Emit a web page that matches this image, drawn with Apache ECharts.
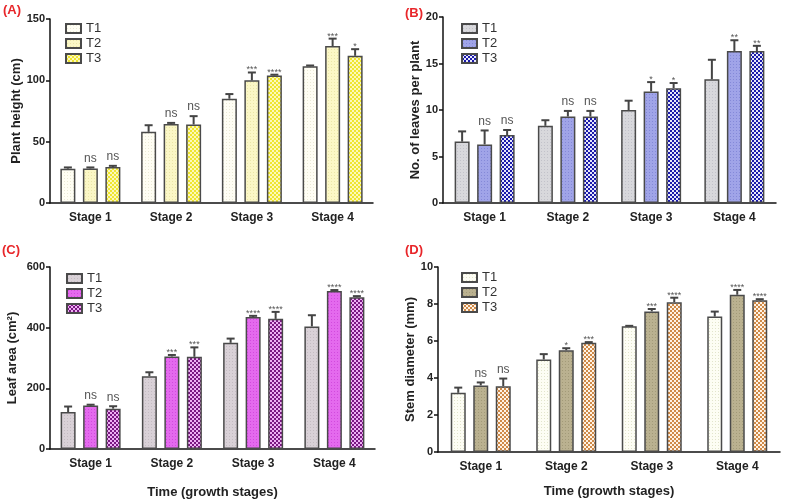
<!DOCTYPE html>
<html>
<head>
<meta charset="UTF-8">
<title></title>
<script src="https://cdn.jsdelivr.net/npm/echarts@6/dist/echarts.min.js"></script>
<style>
* { margin: 0; padding: 0; }
#app { width: 786px; height: 504px; background: #fff; }
</style>
</head>
<body>
<div id="app"></div>
<script>
var stages = ['Stage 1', 'Stage 2', 'Stage 3', 'Stage 4'];
var treatments = ['T1', 'T2', 'T3'];

// (A) plant height, rows = T1, T2, T3
var heightMean = [[28, 58, 85, 111.5], [28.2, 64.5, 100, 128], [29.3, 64, 104, 120]];
var heightErr = [[1, 5.4, 3.8, 0.6], [0.8, 0.8, 6.4, 6], [1, 6.8, 0.6, 5.4]];
var heightSig = [['', '', '', ''], ['ns', 'ns', '***', '***'], ['ns', 'ns', '****', '*']];

// (B) leaves per plant
var leavesMean = [[6.6, 8.3, 10.0, 13.3], [6.3, 9.3, 12.0, 16.35], [7.3, 9.3, 12.35, 16.35]];
var leavesErr = [[1.1, 0.6, 1.0, 2.1], [1.5, 0.6, 1.0, 1.15], [0.55, 0.6, 0.55, 0.55]];
var leavesSig = [['', '', '', ''], ['ns', 'ns', '*', '**'], ['ns', 'ns', '*', '**']];

// (C) leaf area
var areaMean = [[122, 240, 350, 404], [143, 305, 435, 521], [133, 304, 429, 500]];
var areaErr = [[18, 13, 14, 37], [3, 5, 4, 3], [8, 31, 23, 4]];
var areaSig = [['', '', '', ''], ['ns', '***', '****', '****'], ['ns', '***', '****', '****']];

// (D) stem diameter
var stemMean = [[3.2, 5.0, 6.8, 7.32], [3.6, 5.5, 7.6, 8.5], [3.56, 5.9, 8.1, 8.2]];
var stemErr = [[0.28, 0.29, 0.02, 0.27], [0.16, 0.11, 0.13, 0.26], [0.41, 0.04, 0.24, 0.06]];
var stemSig = [['', '', '', ''], ['ns', '*', '***', '****'], ['ns', '***', '****', '****']];

function dots(base, dot) {
	var c = document.createElement('canvas');
	c.width = 3; c.height = 3;
	var g = c.getContext('2d');
	g.fillStyle = base; g.fillRect(0, 0, 3, 3);
	g.fillStyle = dot; g.fillRect(1, 1, 1, 1);
	return { image: c, repeat: 'repeat' };
}
function checks(a, b) {
	var c = document.createElement('canvas');
	c.width = 4; c.height = 4;
	var g = c.getContext('2d');
	g.fillStyle = b; g.fillRect(0, 0, 4, 4);
	g.fillStyle = a; g.fillRect(0, 0, 2, 2); g.fillRect(2, 2, 2, 2);
	return { image: c, repeat: 'repeat' };
}

var font = "'Liberation Sans', Arial, sans-serif";

var panels = [
	{ key: 'A', tag: '(A)', yName: 'Plant height (cm)', max: 150, step: 50,
	  mean: heightMean, err: heightErr, sig: heightSig,
	  fills: [dots('#fffef4', '#ebead6'), dots('#fbf7c6', '#ebe6a8'), checks('#efe530', '#fbf8bc')],
	  grid: { left: 50, top: 19, width: 323, height: 184 }, nameGap: 27, legend: [60, 16], tagPos: [3, 4] },
	{ key: 'B', tag: '(B)', yName: 'No. of leaves per plant', max: 20, step: 5,
	  mean: leavesMean, err: leavesErr, sig: leavesSig,
	  fills: [dots('#d8d8dc', '#c2c2ca'), dots('#a0a4e8', '#8489d8'), checks('#1a1aaa', '#e6e6fa')],
	  grid: { left: 443, top: 17, width: 333, height: 186 }, nameGap: 17, legend: [456, 16], tagPos: [405, 7] },
	{ key: 'C', tag: '(C)', yName: 'Leaf area (cm²)', max: 600, step: 200,
	  mean: areaMean, err: areaErr, sig: areaSig,
	  fills: [dots('#d9d1d7', '#c4bcc2'), dots('#e46aee', '#d24ade'), checks('#7a1882', '#eeb0f4')],
	  grid: { left: 50, top: 267, width: 325, height: 182 }, nameGap: 31, legend: [61, 266], tagPos: [2, 244],
	  xName: 'Time (growth stages)', xGap: 37 },
	{ key: 'D', tag: '(D)', yName: 'Stem diameter (mm)', max: 10, step: 2,
	  mean: stemMean, err: stemErr, sig: stemSig,
	  fills: [dots('#fdfdf4', '#e2e4cc'), dots('#bab190', '#a29a78'), checks('#cf8a48', '#fff2e4')],
	  grid: { left: 438, top: 267, width: 342, height: 185 }, nameGap: 17, legend: [456, 265], tagPos: [405, 244],
	  xName: 'Time (growth stages)', xGap: 33 }
];

function errRender(offset, sig) {
	return function (params, api) {
		var j = api.value(0);
		var x = api.coord([j, 0])[0] + offset;
		var top = api.coord([j, api.value(1)])[1];
		var hi = api.coord([j, api.value(1) + api.value(2)])[1];
		var lbl = sig[params.dataIndex];
		var isNs = lbl === 'ns';
		return {
			type: 'group',
			children: [
				{ type: 'line', shape: { x1: x, y1: top, x2: x, y2: hi }, style: { stroke: '#444', lineWidth: 2 } },
				{ type: 'line', shape: { x1: x - 4, y1: hi, x2: x + 4, y2: hi }, style: { stroke: '#444', lineWidth: 2 } },
				{ type: 'text', style: { text: lbl, x: x, y: isNs ? hi - 3 : hi + 2, align: 'center', verticalAlign: 'bottom',
					fill: '#555', font: (isNs ? '12px ' : '9px ') + font } }
			]
		};
	};
}

var grids = [], xAxes = [], yAxes = [], legends = [], series = [], graphics = [];

panels.forEach(function (p, i) {
	grids.push(p.grid);
	xAxes.push({
		type: 'category', gridIndex: i, data: stages,
		name: p.xName || '', nameLocation: 'middle', nameGap: p.xGap || 0,
		nameTextStyle: { fontFamily: font, fontWeight: 'bold', fontSize: 13, color: '#222' },
		axisLine: { lineStyle: { color: '#111', width: 1.5 } },
		axisTick: { alignWithLabel: true, length: 4, lineStyle: { color: '#111', width: 1.5 } },
		axisLabel: { fontFamily: font, fontWeight: 'bold', fontSize: 12, color: '#222', margin: 9 }
	});
	yAxes.push({
		type: 'value', gridIndex: i, min: 0, max: p.max, interval: p.step,
		name: p.yName, nameLocation: 'middle', nameGap: p.nameGap,
		nameTextStyle: { fontFamily: font, fontWeight: 'bold', fontSize: 13, color: '#222' },
		axisLine: { show: true, lineStyle: { color: '#111', width: 1.5 } },
		axisTick: { show: true, length: 4, lineStyle: { color: '#111', width: 1.5 } },
		axisLabel: { fontFamily: font, fontWeight: 'bold', fontSize: 11, color: '#222', margin: 5 },
		splitLine: { show: false }
	});
	legends.push({
		orient: 'vertical', left: p.legend[0], top: p.legend[1],
		data: treatments.map(function (t) { return p.key + ' ' + t; }),
		formatter: function (n) { return n.split(' ')[1]; },
		icon: 'rect', itemWidth: 15, itemHeight: 9, itemGap: 0, selectedMode: false,
		textStyle: { fontFamily: font, fontSize: 13, color: '#333', lineHeight: 15 }
	});
	treatments.forEach(function (t, k) {
		series.push({
			type: 'bar', name: p.key + ' ' + t, xAxisIndex: i, yAxisIndex: i,
			data: p.mean[k], barWidth: 15, barGap: '50%',
			itemStyle: { color: p.fills[k], borderColor: '#4a4a4a', borderWidth: 1.5 }
		});
		series.push({
			type: 'custom', xAxisIndex: i, yAxisIndex: i, z: 3,
			data: p.mean[k].map(function (v, j) { return [j, v, p.err[k][j]]; }),
			renderItem: errRender((k - 1) * 22.5, p.sig[k])
		});
	});
	graphics.push({
		type: 'text', left: p.tagPos[0], top: p.tagPos[1],
		style: { text: p.tag, fill: '#e8262a', font: 'bold 13px ' + font }
	});
});

var myChart = echarts.init(document.getElementById('app'));
myChart.setOption({
	animation: false,
	backgroundColor: '#fff',
	grid: grids,
	xAxis: xAxes,
	yAxis: yAxes,
	legend: legends,
	series: series,
	graphic: graphics
});
</script>
</body>
</html>
